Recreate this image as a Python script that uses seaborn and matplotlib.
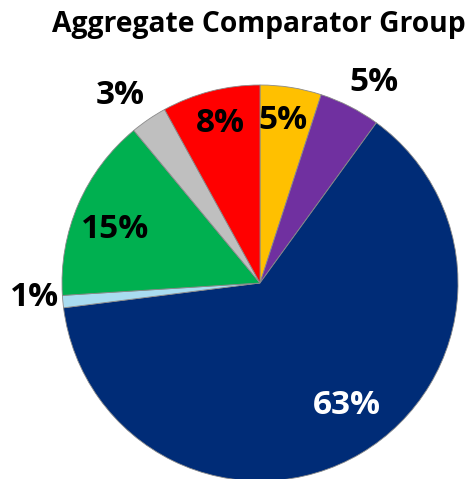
import numpy as np
import matplotlib
matplotlib.use("Agg")
import matplotlib.pyplot as plt
import seaborn as sns

# Share of the aggregate comparator group, clockwise from 12 o'clock
categories = ["Yellow", "Purple", "Navy", "Light blue", "Green", "Gray", "Red"]
shares = [5, 5, 63, 1, 15, 3, 8]
labels = ["5%", "5%", "63%", "1%", "15%", "3%", "8%"]
colors = ["#FFC000", "#7030A0", "#002C77", "#A9DCF0", "#00B050", "#BFBFBF", "#FF0000"]
label_colors = ["black", "black", "white", "black", "black", "black", "black"]

# Label placement: distance from centre (in radii) and angular nudge (degrees)
label_radius = [0.83, 1.163, 0.761, 1.139, 0.78, 1.184, 0.828]
label_nudge = [1.0, -2.7, 4.7, -1.8, 3.3, 2.5, -0.3]

sns.set_theme(style="white")
plt.rcParams["font.family"] = ["Open Sans", "DejaVu Sans"]

fig = plt.figure(figsize=(4.70, 4.79), dpi=100)
ax = fig.add_axes([62 / 470, -2 / 479, 396 / 470, 396 / 479])

wedges, _ = ax.pie(
    shares,
    colors=colors,
    startangle=90,
    counterclock=False,
    radius=1.0,
    wedgeprops=dict(edgecolor="#8a8a8a", linewidth=0.6),
)
ax.set_xlim(-1, 1)
ax.set_ylim(-1, 1)
ax.set_aspect("equal")
ax.axis("off")

for w, lab, r, dth, col in zip(wedges, labels, label_radius, label_nudge, label_colors):
    mid = np.deg2rad((w.theta1 + w.theta2) / 2 + dth)
    ax.text(r * np.cos(mid), r * np.sin(mid), lab, ha="center", va="center",
            fontsize=24, fontweight="bold", color=col, clip_on=False)

fig.text(258.5 / 470, 1 - 32 / 479, "Aggregate Comparator Group", ha="center",
         va="baseline", fontsize=20.3, fontweight="bold", color="black")

fig.savefig("out.png", dpi=100)
